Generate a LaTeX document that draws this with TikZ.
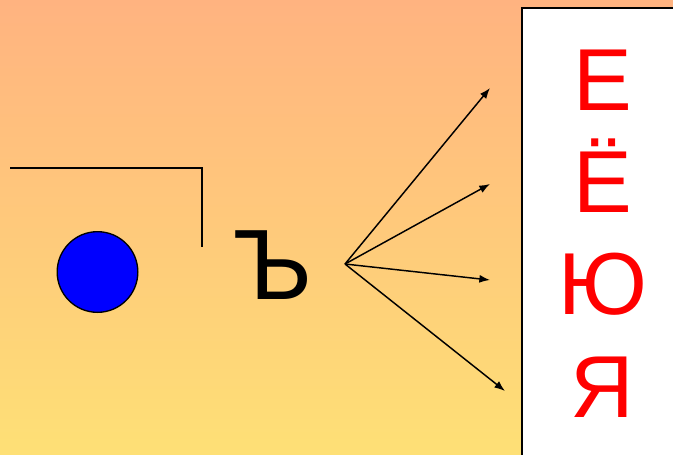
\documentclass[tikz,border=0pt]{standalone}
\usepackage{fontspec}
\setmainfont{Liberation Sans}
\usetikzlibrary{arrows.meta}
\definecolor{bgtop}{RGB}{255,179,128}
\definecolor{bgbot}{RGB}{254,224,118}
\definecolor{dotblue}{RGB}{0,0,255}
\definecolor{letred}{RGB}{255,0,0}
\tikzset{
  px/.style={x=0.75pt,y=-0.75pt},
  arr/.style={line width=1.1pt,-{Latex[length=8pt,width=6pt]}},
  bigletter/.style={font=\fontsize{66}{66}\selectfont,text=letred,anchor=base,inner sep=0pt},
}
\begin{document}
\begin{tikzpicture}[px]
\useasboundingbox (0,0) rectangle (673,454);
\shade[top color=bgtop,bottom color=bgbot] (0,0) rectangle (673,454);
% white panel
\path[fill=white,draw=black,line width=1.5pt] (522,7.5) rectangle (676,457);
% bracket line
\coordinate (l1) at (10,168);
\coordinate (l2) at (202,168);
\coordinate (l3) at (202,247);
\draw[line width=1.1pt] (l1) -- (l2) -- (l3);
% blue circle
\node[circle,fill=dotblue,draw=black,line width=1pt,inner sep=0pt,minimum size=60.5pt] (dot) at (97.5,272) {};
% hard sign
\node[font=\fontsize{75}{75}\selectfont,anchor=base,inner sep=0pt] (hard) at (273,299) {Ъ};
% hub and arrows
\coordinate (hub) at (345,264);
\coordinate (t1) at (490,88);
\coordinate (t2) at (490,184);
\coordinate (t3) at (490,280);
\coordinate (t4) at (505,391);
\draw[arr] (hub) -- (t1);
\draw[arr] (hub) -- (t2);
\draw[arr] (hub) -- (t3);
\draw[arr] (hub) -- (t4);
% vowels
\node[bigletter] (e) at (602.5,110) {Е};
\node[bigletter] (yo) at (602.5,212) {Ё};
\node[bigletter] (yu) at (602.5,314) {Ю};
\node[bigletter] (ya) at (602.5,417) {Я};
\end{tikzpicture}
\end{document}
